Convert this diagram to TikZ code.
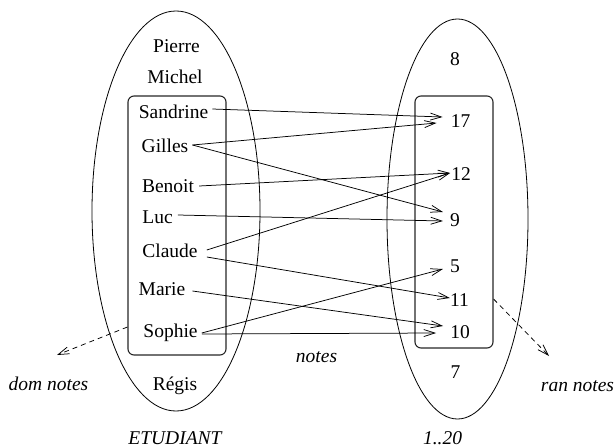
\documentclass[tikz,border=0pt]{standalone}
\usepackage{fontspec}
\setmainfont{Liberation Serif}
\usetikzlibrary{arrows.meta,calc,shapes.geometric}
\begin{document}
\begin{tikzpicture}[x=1pt,y=-1pt,
  lbl/.style={anchor=base,inner sep=0pt,font=\fontsize{19.5}{22}\selectfont},
  ilbl/.style={lbl,font=\fontsize{19.5}{22}\selectfont\itshape},
  setell/.style={draw,ellipse,inner sep=0pt,line width=0.8pt},
  subset/.style={draw,rounded corners=6pt,inner sep=0pt,line width=1.1pt,color=black!85},
  arr/.style={line width=0.75pt,-{Straight Barb[length=11pt,width=7pt,line width=0.75pt]}},
  darr/.style={arr,dash pattern=on 5pt off 4pt}]
\useasboundingbox (0,0) rectangle (616,447);
% sets
\node[setell,minimum width=168pt,minimum height=400pt] (etud) at (176,211) {};
\node[setell,minimum width=141pt,minimum height=400pt] (ints) at (457.5,219) {};
\node[subset,minimum width=98pt,minimum height=259pt] (dom) at (177,225.5) {};
\node[subset,minimum width=78pt,minimum height=252pt] (ran) at (454,222) {};
% names
\node[lbl] (pierre) at (176.5,52) {Pierre};
\node[lbl] (michel) at (175,83) {Michel};
\node[lbl] (sandrine) at (173.5,118) {Sandrine};
\node[lbl] (gilles) at (165,152) {Gilles};
\node[lbl] (benoit) at (168,192) {Benoit};
\node[lbl] (luc) at (157.5,223) {Luc};
\node[lbl] (claude) at (170,257) {Claude};
\node[lbl] (marie) at (162,295) {Marie};
\node[lbl] (sophie) at (170.5,337) {Sophie};
\node[lbl] (regis) at (175,390) {Régis};
% numbers
\node[lbl] (n8) at (455,65) {8};
\node[lbl] (n17) at (460.5,127) {17};
\node[lbl] (n12) at (461,180) {12};
\node[lbl] (n9) at (455,226) {9};
\node[lbl] (n5) at (455,272) {5};
\node[lbl] (n11) at (459.5,306) {11};
\node[lbl] (n10) at (460,338) {10};
\node[lbl] (n7) at (455.5,378) {7};
% labels
\node[ilbl] (domlbl) at (48.5,390) {dom notes};
\node[ilbl] (ranlbl) at (577.5,391) {ran notes};
\node[ilbl] (noteslbl) at (316.5,362) {notes};
\node[ilbl] (etudlbl) at (175,444) {ETUDIANT};
\node[ilbl] (intlbl) at (442.5,444) {1..20};
% arrows
\draw[arr] ($(sandrine.base east)+(4,-9)$) -- ($(n17.base west)+(-8,-10)$);
\draw[arr] ($(gilles.base east)+(4,-7)$) -- ($(n17.base west)+(-14,-4)$);
\draw[arr] ($(gilles.base east)+(4,-7)$) -- ($(n9.base west)+(-7,-14)$);
\draw[arr] ($(benoit.base east)+(5,-6)$) -- ($(n12.base west)+(-1,-7)$);
\draw[arr] ($(luc.base east)+(5,-8)$) -- ($(n9.base west)+(-7,-5)$);
\draw[arr] ($(claude.base east)+(9,-7)$) -- ($(n12.base west)+(-1,-7)$);
\draw[arr] ($(claude.base east)+(9,0)$) -- ($(n11.base west)+(0,-8)$);
\draw[arr] ($(marie.base east)+(7,-4)$) -- ($(n10.base west)+(-7,-12)$);
\draw[arr] ($(sophie.base east)+(4,-4)$) -- ($(n5.base west)+(-7,-3)$);
\draw[arr] ($(sophie.base east)+(4,-3)$) -- ($(n10.base west)+(-14,-5)$);
% dashed
\coordinate (domend) at (57,355);
\coordinate (ranend) at (549,356);
\draw[darr] ($(dom.west)+(0,101.5)$) -- (domend);
\draw[darr] ($(ran.east)+(0,77)$) -- (ranend);
\end{tikzpicture}
\end{document}
